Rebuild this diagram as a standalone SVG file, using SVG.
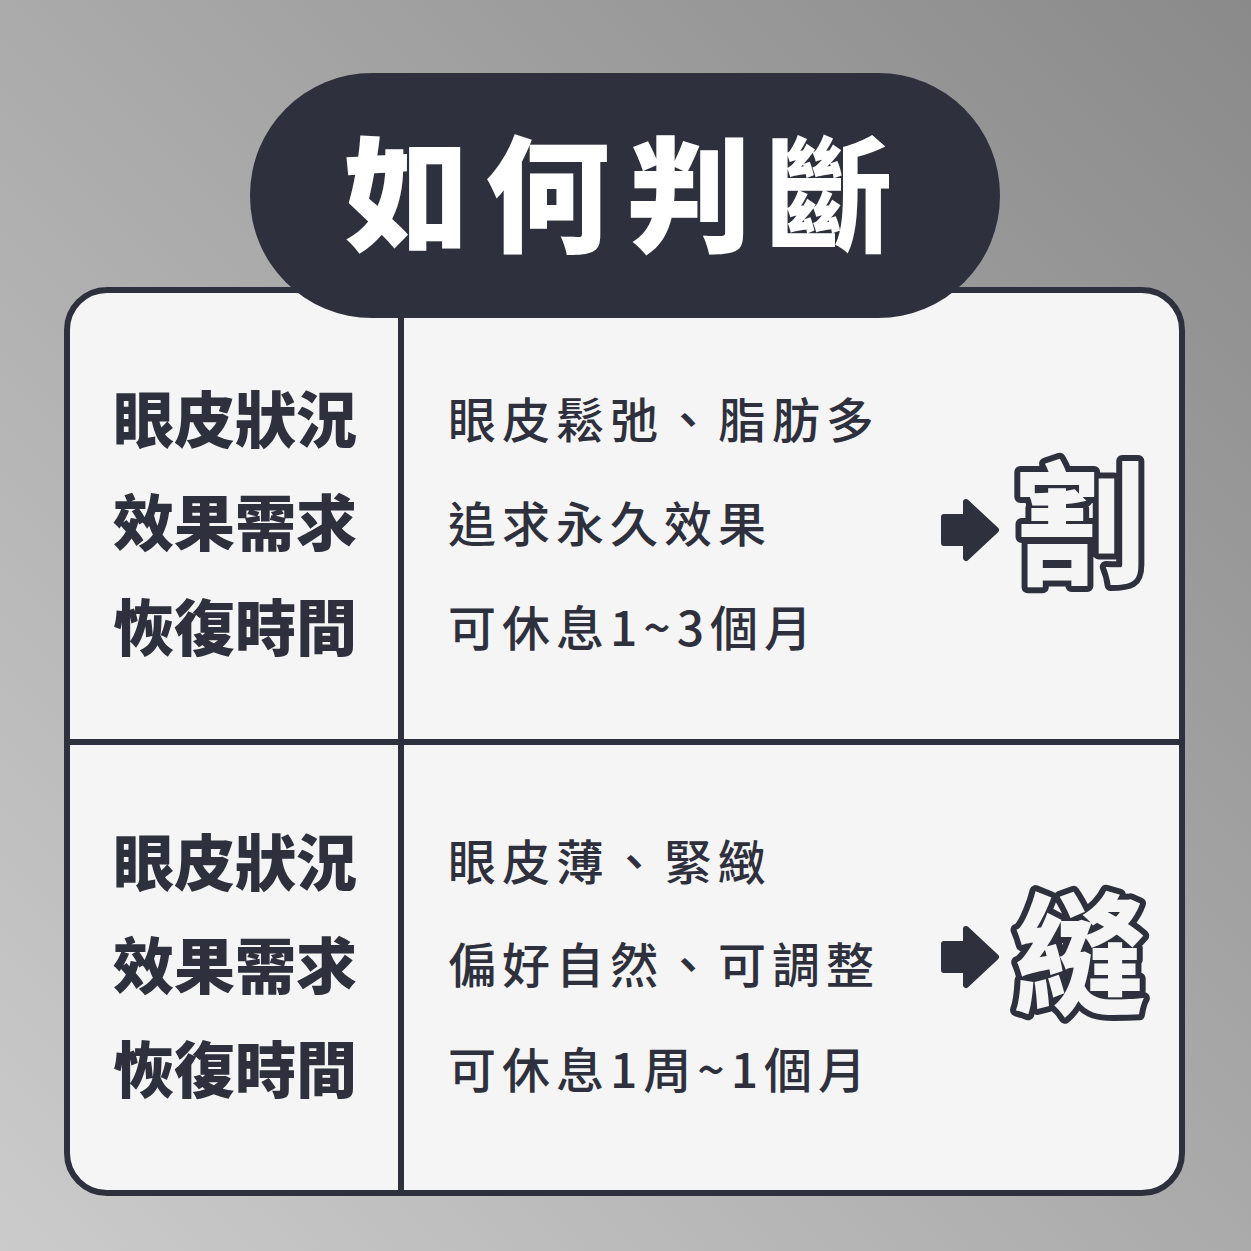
<svg xmlns="http://www.w3.org/2000/svg" width="1251" height="1251" viewBox="0 0 1251 1251">
<defs>
<linearGradient id="bg" x1="1" y1="0" x2="0" y2="1">
<stop offset="0" stop-color="#8a8a8a"/><stop offset="1" stop-color="#cbcbcb"/>
</linearGradient>
<style>
.lab{font-family:"Noto Sans CJK TC","Noto Sans CJK SC",sans-serif;font-weight:900;font-size:61px;fill:#2e313d}
.txt{font-family:"Noto Sans CJK TC","Noto Sans CJK SC",sans-serif;font-weight:500;font-size:48px;fill:#2e313d;letter-spacing:6px}
.big{font-family:"Noto Sans CJK TC","Noto Sans CJK SC",sans-serif;font-weight:900;font-size:132px;fill:#f5f5f5;stroke:#2e313d;stroke-width:12;stroke-linejoin:round;paint-order:stroke;text-anchor:middle}
.arrow{fill:#2e313d;stroke:#2e313d;stroke-width:6;stroke-linejoin:round}
</style>
</defs>
<rect width="1251" height="1251" fill="url(#bg)"/>
<g id="card">
<rect x="67" y="290" width="1115" height="903" rx="40" fill="#f5f5f5" stroke="#2e313d" stroke-width="6"/>
</g>
<g id="connectors" stroke="#2e313d" stroke-width="6">
<line x1="401" y1="310" x2="401" y2="1193"/>
<line x1="67" y1="742" x2="1182" y2="742"/>
</g>
<g id="title">
<rect x="250" y="73" width="750" height="245" rx="122" fill="#2e313d"/>
<text x="626" y="242" font-family="Noto Sans CJK TC,sans-serif" font-weight="900" font-size="125" fill="#fff" text-anchor="middle" letter-spacing="16">如何判斷</text>
</g>
<g id="top">
<text class="lab" x="113" y="443">眼皮狀況</text>
<text class="lab" x="113" y="546">效果需求</text>
<text class="lab" x="113" y="651">恢復時間</text>
<text class="txt" x="448" y="438">眼皮鬆弛、脂肪多</text>
<text class="txt" x="448" y="542">追求永久效果</text>
<text class="txt" x="448" y="646">可休息1~3個月</text>
<path class="arrow" d="M944 517H966V502L996 530L966 558V543H944Z"/>
<text class="big" x="1080" y="574">割</text>
</g>
<g id="bottom">
<text class="lab" x="113" y="886">眼皮狀況</text>
<text class="lab" x="113" y="989">效果需求</text>
<text class="lab" x="113" y="1093">恢復時間</text>
<text class="txt" x="448" y="880">眼皮薄、緊緻</text>
<text class="txt" x="448" y="983">偏好自然、可調整</text>
<text class="txt" x="448" y="1088">可休息1周~1個月</text>
<path class="arrow" d="M944 944H966V929L996 957L966 985V970H944Z"/>
<text class="big" x="1080" y="1004">縫</text>
</g>
</svg>
